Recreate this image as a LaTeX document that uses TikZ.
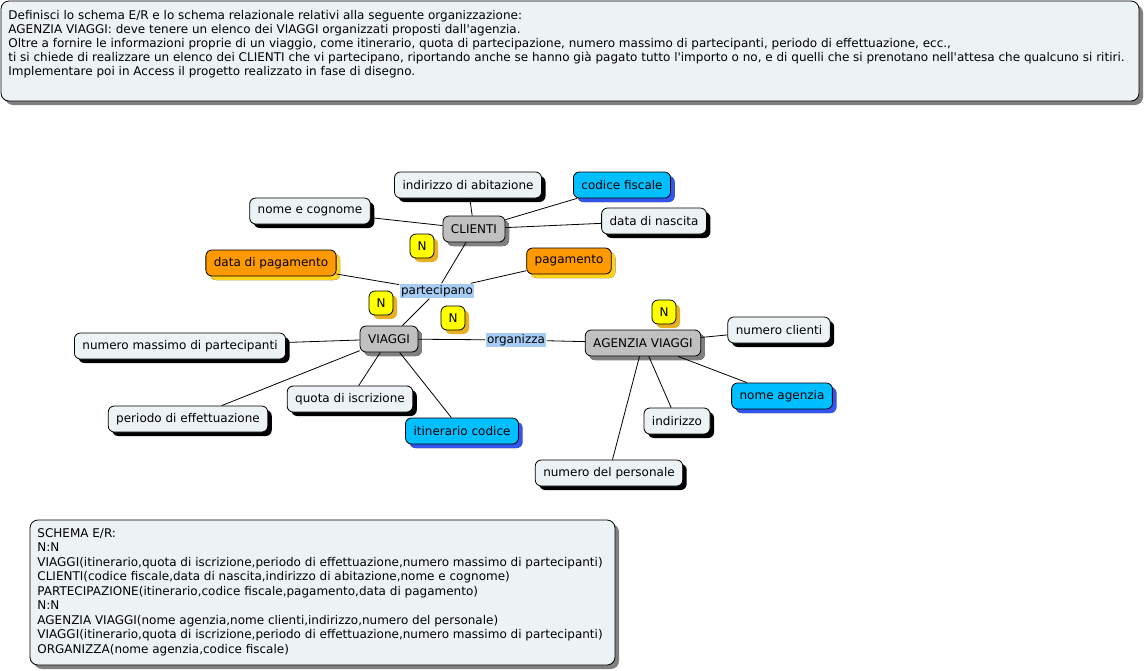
\documentclass[tikz,border=0pt]{standalone}
\usepackage{xcolor}
\usepackage{fontspec}
\setmainfont{DejaVu Sans}
\usepackage{tikz}
\usetikzlibrary{shadows}

\definecolor{pale}{HTML}{EDF3F5}
\definecolor{sky}{HTML}{00BFFF}
\definecolor{skyshadow}{HTML}{3355EE}
\definecolor{orng}{HTML}{FF9900}
\definecolor{orngshadow}{HTML}{FFD21A}
\definecolor{grey}{HTML}{C0C0C0}
\definecolor{ylw}{HTML}{FFFF00}
\definecolor{ylwshadow}{HTML}{E8B020}
\definecolor{rel}{HTML}{A6CCF4}

\begin{document}
\begin{tikzpicture}[x=1pt,y=-1pt,font=\fontsize{12}{14}\selectfont,line width=0.8pt]
        \tikzset{
          box/.style={draw=black,rounded corners=6pt,minimum height=26pt,inner xsep=8pt,fill=pale,
            drop shadow={shadow xshift=4pt,shadow yshift=-4pt,fill=black,opacity=1}},
          attr/.style={box},
          key/.style={box,fill=sky,drop shadow={shadow xshift=4pt,shadow yshift=-4pt,fill=skyshadow,opacity=1}},
          link/.style={box,fill=orng,drop shadow={shadow xshift=4pt,shadow yshift=-4pt,fill=orngshadow,opacity=1}},
          entity/.style={box,fill=grey,drop shadow={shadow xshift=4pt,shadow yshift=-4pt,fill=gray,opacity=1}},
          card/.style={draw=black,rounded corners=6pt,fill=ylw,minimum width=24pt,minimum height=24pt,inner sep=0pt,
            drop shadow={shadow xshift=4pt,shadow yshift=-4pt,fill=ylwshadow,opacity=1}},
          relation/.style={fill=rel,inner sep=1.5pt},
          note/.style={draw=black,rounded corners=8pt,fill=pale,
            drop shadow={shadow xshift=4pt,shadow yshift=-4pt,fill=gray,opacity=1}}
        }
        \useasboundingbox (0,0) rectangle (1146,670);
        % text boxes
        \draw[note] (1,1) rectangle (1139,101);
        \node[anchor=north west,align=left,inner sep=0pt] (Tx) at (8,9.5) {Definisci lo schema E/R e lo schema relazionale relativi alla seguente organizzazione:\\
          AGENZIA VIAGGI: deve tenere un elenco dei VIAGGI organizzati proposti dall\textquotesingle agenzia.\\
          Oltre a fornire le informazioni proprie di un viaggio, come itinerario, quota di partecipazione, numero massimo di partecipanti, periodo di effettuazione, ecc.,\\
          ti si chiede di realizzare un elenco dei CLIENTI che vi partecipano, riportando anche se hanno già pagato tutto l\textquotesingle importo o no, e di quelli che si prenotano nell\textquotesingle attesa che qualcuno si ritiri.\\
          Implementare poi in Access il progetto realizzato in fase di disegno.};
        \draw[note] (30,520) rectangle (615,665);
        \node[anchor=north west,align=left,inner sep=0pt,font=\fontsize{12}{14.5}\selectfont] (Sc) at (37,528) {SCHEMA E/R:\\
          N:N\\
          VIAGGI(itinerario,quota di iscrizione,periodo di effettuazione,numero massimo di partecipanti)\\
          CLIENTI(codice fiscale,data di nascita,indirizzo di abitazione,nome e cognome)\\
          PARTECIPAZIONE(itinerario,codice fiscale,pagamento,data di pagamento)\\
          N:N\\
          AGENZIA VIAGGI(nome agenzia,nome clienti,indirizzo,numero del personale)\\
          VIAGGI(itinerario,quota di iscrizione,periodo di effettuazione,numero massimo di partecipanti)\\
          ORGANIZZA(nome agenzia,codice fiscale)};
        % entities
        \node[entity] (Cl) at (474,229) {CLIENTI};
        \node[entity] (Vg) at (389,339) {VIAGGI};
        \node[entity] (Ag) at (643,343) {AGENZIA VIAGGI};
        % relations
        \node[relation] (Pa) at (437,291) {partecipano};
        \node[relation] (Or) at (516,340) {organizza};
        % attributes
        \node[attr] (Ia) at (468,185) {indirizzo di abitazione};
        \node[key] (Cf) at (622,185) {codice fiscale};
        \node[attr] (Nc) at (310,211) {nome e cognome};
        \node[attr] (Dn) at (654,221) {data di nascita};
        \node[link] (Dp) at (271,263) {data di pagamento};
        \node[link] (Pg) at (569,261) {pagamento};
        \node[attr] (Nm) at (180,346) {numero massimo di partecipanti};
        \node[attr] (Qi) at (350,399) {quota di iscrizione};
        \node[attr] (Pe) at (188,419) {periodo di effettuazione};
        \node[key] (It) at (462,431) {itinerario codice};
        \node[attr] (Nu) at (779,330) {numero clienti};
        \node[key] (Na) at (782,396) {nome agenzia};
        \node[attr] (In) at (677,421) {indirizzo};
        \node[attr] (Np) at (609,473) {numero del personale};
        % cardinalities
        \node[card] (N1) at (422,246) {N};
        \node[card] (N2) at (381,303) {N};
        \node[card] (N3) at (453,318) {N};
        \node[card] (N4) at (664,312) {N};
        % connectors
        \path[draw=black]
        (Cl) edge (Ia) edge (Cf) edge (Nc) edge (Dn) edge (Pa)
        (Pa) edge (Dp) edge (Pg) edge (Vg)
        (Vg) edge (Nm) edge (Qi) edge (Pe) edge (It) edge (Or)
        (Or) edge (Ag)
        (Ag) edge (Nu) edge (Na) edge (In) edge (Np);
    \end{tikzpicture}
\end{document}
